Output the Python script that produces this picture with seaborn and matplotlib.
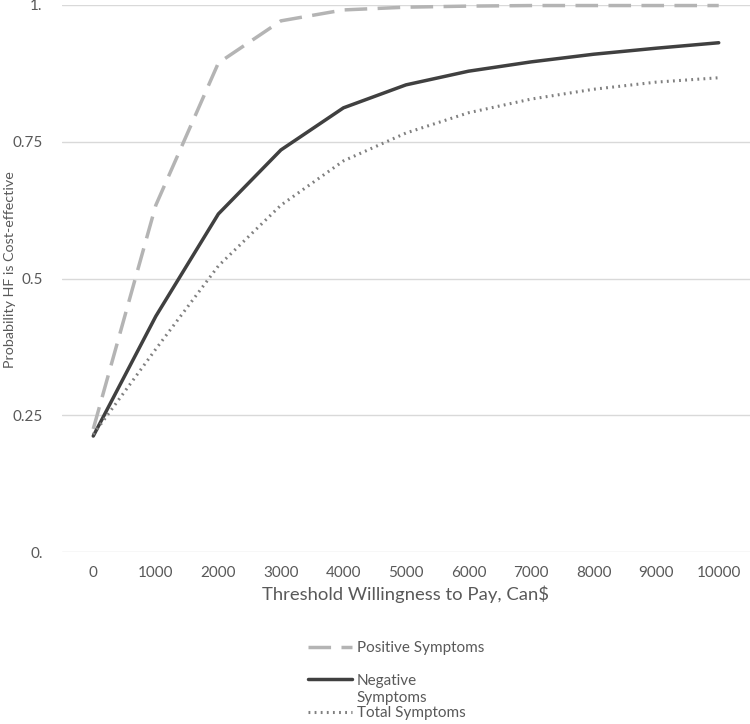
import numpy as np
import pandas as pd
import matplotlib
matplotlib.use("Agg")
import matplotlib.pyplot as plt
import seaborn as sns

# values
thresholds = [0, 1000, 2000, 3000, 4000, 5000, 6000, 7000, 8000, 9000, 10000]
positive = [0.225, 0.634, 0.894, 0.971, 0.991, 0.996, 0.998, 0.999, 0.999, 0.999, 0.999]
negative = [0.212, 0.431, 0.618, 0.735, 0.812, 0.854, 0.879, 0.896, 0.910, 0.921, 0.931]
total = [0.215, 0.371, 0.523, 0.634, 0.715, 0.766, 0.803, 0.828, 0.846, 0.859, 0.867]
y_ticks = [0, 0.25, 0.5, 0.75, 1.0]
y_ticklabels = ["0.", "0.25", "0.5", "0.75", "1."]

df = pd.DataFrame({
    "threshold": thresholds * 3,
    "prob": positive + negative + total,
    "group": ["Positive Symptoms"] * 11 + ["Negative"] * 11 + ["Total Symptoms"] * 11,
})

sns.set_style("white")
plt.rcParams["font.family"] = ["Lato", "DejaVu Sans"]
txt = "#595959"

fig = plt.figure(figsize=(7.5, 7.24), dpi=100)
ax = fig.add_axes([62 / 750, 1 - 552 / 724, 688 / 750, 547 / 724])

styles = {
    "Positive Symptoms": dict(color="#b4b4b4", lw=2.5, dashes=(6.5, 3)),
    "Negative": dict(color="#404040", lw=2.5),
    "Total Symptoms": dict(color="#808080", lw=2.2, dashes=(0.6, 1.4)),
}
for name, st in styles.items():
    sub = df[df["group"] == name]
    line = sns.lineplot(data=sub, x="threshold", y="prob", ax=ax, label=name,
                        color=st["color"], linewidth=st["lw"]).lines[-1]
    if "dashes" in st:
        line.set_dashes(st["dashes"])

ax.set_xlim(-500, 10500)
ax.set_ylim(0, 1.0)
ax.set_xticks(thresholds)
ax.set_xticklabels([str(t) for t in thresholds])
ax.set_yticks(y_ticks)
ax.set_yticklabels(y_ticklabels)
ax.yaxis.grid(True, color="#d9d9d9", lw=1)
ax.set_axisbelow(True)
for s in ax.spines.values():
    s.set_visible(False)
ax.tick_params(axis="both", colors=txt, labelsize=11, length=0, pad=14)
ax.tick_params(axis="x", pad=10)
ax.set_xlabel("Threshold Willingness to Pay, Can$", color=txt, fontsize=13.3, labelpad=4)
ax.set_ylabel("Probability HF is Cost-effective", color=txt, fontsize=10.3)
ax.yaxis.set_label_coords(-46 / 688, 282 / 547)
for l in ax.lines:
    l.set_clip_on(False)

ax.get_legend().remove()
handles, labels = ax.get_legend_handles_labels()
leg = fig.legend(handles, labels, loc="upper left", bbox_to_anchor=(308 / 750, 1 - 641 / 724),
                 frameon=False, fontsize=11, handlelength=2.9, handletextpad=0.3,
                 labelspacing=1.22, labelcolor=txt, borderaxespad=0, borderpad=0)
# second line of the wrapped "Negative Symptoms" label
fig.canvas.draw()
neg_text = leg.get_texts()[1]
bb = neg_text.get_window_extent()
fig.text(bb.x0 / 750, (bb.y0 - 3) / 724, "Symptoms", color=txt, fontsize=11, va="top", ha="left")

fig.savefig("out.png", dpi=100, facecolor="white")
